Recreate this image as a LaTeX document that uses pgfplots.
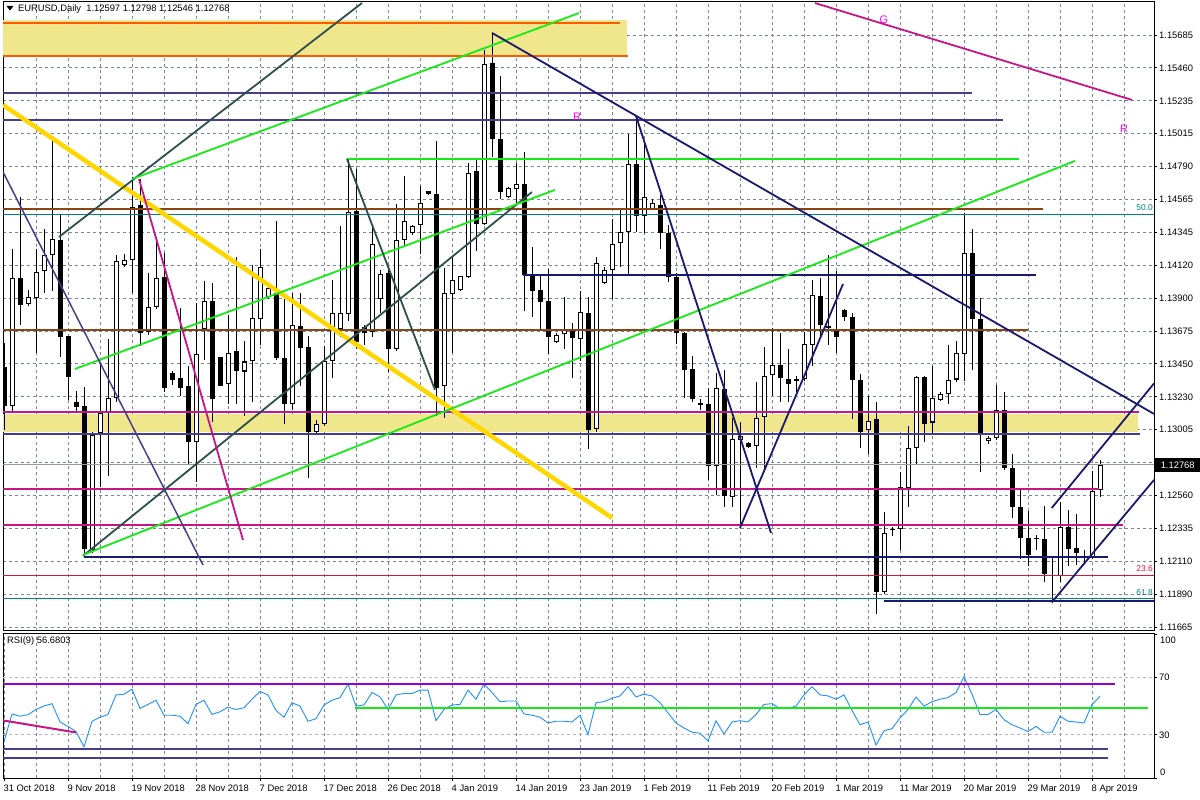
\documentclass[border=0pt]{standalone}
\usepackage{pgfplots}
\pgfplotsset{compat=1.18}
\usepackage{pgfplotstable}
\usepackage{fontspec}
\setmainfont{Liberation Sans}

\definecolor{gridc}{RGB}{120,134,150}
\definecolor{zone}{RGB}{240,230,140}
\definecolor{orangeln}{RGB}{255,90,0}
\definecolor{slateb}{RGB}{72,61,139}
\definecolor{limeg}{RGB}{20,235,20}
\definecolor{brownl}{RGB}{139,69,19}
\definecolor{tealf}{RGB}{0,128,128}
\definecolor{navyl}{RGB}{25,25,112}
\definecolor{magl}{RGB}{199,21,133}
\definecolor{crimf}{RGB}{220,20,60}
\definecolor{goldl}{RGB}{255,215,0}
\definecolor{dslate}{RGB}{47,79,79}
\definecolor{rsiblue}{RGB}{30,144,255}
\definecolor{violetl}{RGB}{148,0,211}
\definecolor{lblmag}{RGB}{255,0,255}
\definecolor{levelc}{RGB}{185,185,185}

% white candles (close >= open)
\pgfplotstableread{
i o h l c
1 1.13163 1.14232 1.13120 1.14036
3 1.13856 1.13954 1.13850 1.13905
4 1.13900 1.14232 1.13529 1.14074
5 1.14082 1.14369 1.13932 1.14191
6 1.14191 1.14969 1.13946 1.14298
11 1.12192 1.12991 1.12165 1.12972
12 1.12980 1.13456 1.12618 1.13116
13 1.13128 1.13619 1.12692 1.13223
14 1.13223 1.14191 1.13196 1.14150
15 1.14123 1.14200 1.14110 1.14156
16 1.14156 1.14723 1.13932 1.14519
18 1.13670 1.14069 1.13646 1.13837
19 1.13837 1.14314 1.13823 1.14036
24 1.12923 1.13864 1.12651 1.13523
25 1.13687 1.14014 1.13482 1.13878
28 1.13313 1.13782 1.13182 1.13529
30 1.13401 1.13605 1.13101 1.13469
31 1.13469 1.14123 1.13196 1.13763
32 1.13755 1.14232 1.13583 1.14110
33 1.13905 1.13973 1.13891 1.13965
36 1.13182 1.13932 1.13141 1.13714
39 1.12991 1.13073 1.12983 1.13046
40 1.13046 1.13572 1.13032 1.13469
41 1.13469 1.14022 1.13360 1.13796
42 1.13687 1.14390 1.13632 1.13796
43 1.13790 1.14846 1.13741 1.14483
46 1.13665 1.14382 1.13638 1.14265
47 1.13891 1.14090 1.13801 1.14063
49 1.13551 1.14538 1.13537 1.14292
50 1.14292 1.14729 1.14246 1.14423
51 1.14341 1.14396 1.14328 1.14388
52 1.14396 1.14660 1.14200 1.14543
55 1.13300 1.14101 1.13081 1.13932
56 1.13927 1.14178 1.13523 1.14020
57 1.13954 1.14052 1.13946 1.14047
58 1.14041 1.14819 1.14036 1.14750
60 1.14404 1.15582 1.14396 1.15487
63 1.14587 1.14652 1.14581 1.14647
64 1.14636 1.14819 1.14532 1.14674
69 1.13600 1.13660 1.13591 1.13651
70 1.13654 1.13905 1.13556 1.13687
72 1.13619 1.13946 1.13469 1.13801
74 1.13011 1.14178 1.12991 1.14137
75 1.14000 1.14110 1.13998 1.14090
76 1.14090 1.14437 1.13891 1.14268
77 1.14273 1.14505 1.14110 1.14347
78 1.14347 1.15015 1.14055 1.14810
80 1.14456 1.14955 1.14341 1.14587
81 1.14505 1.14573 1.14500 1.14543
87 1.13180 1.13210 1.13136 1.13182
89 1.12760 1.13392 1.12561 1.13291
91 1.12547 1.13087 1.12482 1.12942
92 1.12937 1.13060 1.12337 1.12964
94 1.12896 1.13332 1.12746 1.13087
95 1.13092 1.13564 1.12746 1.13373
96 1.13373 1.13700 1.13237 1.13447
99 1.13338 1.13373 1.13264 1.13351
100 1.13351 1.13673 1.13338 1.13586
101 1.13583 1.14020 1.13441 1.13919
108 1.13000 1.13237 1.12841 1.13065
110 1.11901 1.12446 1.11893 1.12302
111 1.12329 1.12345 1.12283 1.12329
112 1.12329 1.12719 1.12192 1.12618
113 1.12610 1.13032 1.12482 1.12882
114 1.12882 1.13373 1.12765 1.13365
116 1.13054 1.13436 1.12983 1.13223
117 1.13210 1.13264 1.13201 1.13251
118 1.13245 1.13583 1.13182 1.13343
119 1.13346 1.13610 1.13327 1.13523
120 1.13523 1.14478 1.13338 1.14205
123 1.12929 1.12964 1.12910 1.12951
124 1.12951 1.13311 1.12937 1.13136
129 1.12266 1.12291 1.12192 1.12269
131 1.12013 1.12138 1.11832 1.12018
132 1.12010 1.12514 1.11974 1.12345
135 1.12141 1.12192 1.12111 1.12146
136 1.12138 1.12727 1.12127 1.12591
137 1.12597 1.12798 1.12546 1.12768
}\bull

% black candles (close < open)
\pgfplotstableread{
i o h l c
0 1.13428 1.13591 1.13005 1.13163
2 1.14036 1.14587 1.13714 1.13850
7 1.14295 1.14464 1.13501 1.13632
8 1.13643 1.13643 1.13207 1.13360
9 1.13196 1.13272 1.13136 1.13158
10 1.13169 1.13297 1.12160 1.12192
17 1.14532 1.14709 1.13572 1.13660
20 1.14041 1.14205 1.13264 1.13291
21 1.13392 1.13401 1.13311 1.13346
22 1.13354 1.13829 1.13237 1.13291
23 1.13300 1.13436 1.12773 1.12923
26 1.13878 1.14000 1.13060 1.13210
27 1.13496 1.13501 1.13300 1.13305
29 1.13537 1.14178 1.13182 1.13401
34 1.13932 1.14423 1.13482 1.13496
35 1.13496 1.13891 1.13046 1.13182
37 1.13709 1.13932 1.13305 1.13564
38 1.13564 1.13646 1.12678 1.12991
44 1.14491 1.14778 1.13551 1.13600
45 1.13700 1.13714 1.13583 1.13660
48 1.14069 1.14110 1.13401 1.13551
53 1.14625 1.14630 1.14598 1.14603
54 1.14603 1.14963 1.13101 1.13291
59 1.14759 1.14838 1.14219 1.14404
61 1.15495 1.15691 1.14859 1.14977
62 1.14977 1.15405 1.14573 1.14619
65 1.14674 1.14892 1.13810 1.14055
66 1.14055 1.14246 1.13769 1.13946
67 1.13954 1.14055 1.13692 1.13872
68 1.13878 1.14101 1.13523 1.13632
71 1.13692 1.13728 1.13354 1.13627
73 1.13801 1.13905 1.12874 1.13005
79 1.14810 1.15132 1.14347 1.14456
82 1.14532 1.14600 1.14232 1.14341
83 1.14341 1.14396 1.14009 1.14041
84 1.14041 1.14069 1.13591 1.13665
85 1.13665 1.13670 1.13223 1.13414
86 1.13414 1.13504 1.13196 1.13210
88 1.13182 1.13291 1.12664 1.12760
90 1.13283 1.13409 1.12482 1.12555
93 1.12915 1.12923 1.12880 1.12888
97 1.13447 1.13660 1.13196 1.13354
98 1.13351 1.13551 1.13196 1.13313
102 1.13913 1.14036 1.13619 1.13714
103 1.13709 1.14191 1.13583 1.13698
104 1.13692 1.14082 1.13523 1.13632
105 1.13818 1.13823 1.13741 1.13769
106 1.13769 1.13801 1.13081 1.13346
107 1.13346 1.13387 1.12882 1.12991
109 1.13079 1.13196 1.11751 1.11901
115 1.13365 1.13373 1.12923 1.13046
121 1.14205 1.14369 1.13414 1.13755
122 1.13755 1.13900 1.12719 1.12970
125 1.13136 1.13264 1.12732 1.12746
126 1.12746 1.12841 1.12405 1.12482
127 1.12482 1.12596 1.12127 1.12269
128 1.12269 1.12454 1.12078 1.12152
130 1.12263 1.12487 1.11969 1.12023
133 1.12345 1.12460 1.12083 1.12192
134 1.12200 1.12432 1.12086 1.12166
}\bear

% RSI(9)
\pgfplotstableread{
i r
0 25.2
1 44.5
2 42.9
3 44.0
4 47.6
5 50.0
6 51.6
7 38.9
8 35.8
9 32.3
10 21.7
11 39.4
12 42.2
13 44.1
14 57.7
15 58.2
16 61.7
17 48.3
18 51.1
19 54.0
20 43.6
21 43.6
22 42.9
23 37.7
24 51.1
25 54.0
26 44.1
27 46.0
28 49.2
29 47.6
30 48.8
31 54.7
32 60.1
33 57.7
34 46.9
35 42.2
36 52.3
37 49.9
38 39.4
39 41.2
40 50.7
41 54.0
42 55.8
43 65.2
44 49.9
45 50.7
46 59.4
47 56.3
48 47.6
49 57.7
50 58.7
51 58.7
52 61.0
53 61.0
54 39.8
55 47.6
56 50.7
57 51.1
58 61.0
59 54.7
60 65.2
61 59.4
62 53.0
63 53.5
64 53.5
65 44.5
66 43.6
67 42.2
68 38.2
69 39.4
70 39.4
71 38.9
72 43.6
73 30.0
74 52.3
75 53.0
76 55.4
77 57.0
78 63.4
79 56.3
80 58.2
81 57.0
82 52.3
83 45.2
84 38.2
85 34.7
86 31.8
87 31.1
88 25.7
89 39.8
90 30.4
91 38.9
92 39.8
93 38.9
94 44.1
95 51.1
96 51.6
97 48.3
98 48.3
99 50.0
100 57.7
101 63.4
102 57.7
103 57.0
104 54.7
105 57.7
106 46.9
107 37.0
108 38.9
109 22.9
110 32.8
111 34.2
112 41.7
113 47.6
114 56.3
115 49.9
116 53.0
117 54.7
118 55.8
119 59.4
120 70.4
121 58.2
122 44.1
123 44.1
124 47.6
125 40.5
126 37.0
127 34.7
128 32.3
129 35.8
130 31.8
131 31.8
132 42.9
133 39.4
134 38.9
135 38.2
136 51.1
137 56.7
}\rsi

\pgfplotsset{
  mt/.style={
    scale only axis, width=1151bp,
    xmin=-0.125, xmax=143.75,
    axis line style={black, line width=1bp},
    grid=both,
    major grid style={gridc, line width=0.8bp, dash pattern=on 3bp off 3bp},
    minor grid style={gridc, line width=0.8bp, dash pattern=on 3bp off 3bp},
    minor xtick={4,12,...,140},
    minor tick length=0pt,
    tick align=outside, major tick length=3bp,
    tick style={black, line width=0.8bp},
    ytick pos=right, yticklabel pos=right,
    tick label style={font=\fontsize{9.4}{10}\selectfont},
    yticklabel style={anchor=west, inner sep=0pt, xshift=2bp},
    clip mode=individual,
  },
  wick/.style={draw=none, mark=none, forget plot,
    error bars/.cd, y dir=both, y explicit, error mark=none,
    error bar style={draw=black, line width=1bp}},
  bodyb/.style={draw=none, mark=none, forget plot,
    error bars/.cd, y dir=both, y explicit, error mark=none,
    error bar style={draw=black, line width=5bp}},
  bodyw/.style={draw=none, mark=none, forget plot,
    error bars/.cd, y dir=both, y explicit, error mark=none,
    error bar style={draw=white, line width=3bp}},
}

\begin{document}
\begin{tikzpicture}
\path[use as bounding box, fill=white] (0,0) rectangle (1200bp,800bp);

% price panel
\begin{axis}[mt,
  height=629bp, at={(3bp,169bp)}, anchor=south west,
  ymin=1.11638, ymax=1.15909,
  xtick={8,16,...,136}, xticklabels={}, x tick style={draw=none},
  ytick={1.11665,1.11888,1.12112,1.12335,1.12558,1.12782,1.13005,1.13228,1.13452,1.13675,1.13898,1.14122,1.14345,1.14568,1.14792,1.15015,1.15238,1.15462,1.15685},
  yticklabels={1.11665,1.11890,1.12110,1.12335,1.12560,{},1.13005,1.13230,1.13450,1.13675,1.13900,1.14120,1.14345,1.14565,1.14790,1.15015,1.15235,1.15460,1.15685},
]
% zones
\addplot[draw=none, fill=zone] coordinates {(-0.125,1.15787) (77.9,1.15787) (77.9,1.15543) (-0.125,1.15543)};
\addplot[draw=none, fill=zone] coordinates {(-0.125,1.13114) (141.75,1.13114) (141.75,1.12989) (-0.125,1.12989)};

% candles
\addplot[wick] table[x=i, y expr={(\thisrow{h}+\thisrow{l})/2}, y error expr={(\thisrow{h}-\thisrow{l})/2}] {\bear};
\addplot[wick] table[x=i, y expr={(\thisrow{h}+\thisrow{l})/2}, y error expr={(\thisrow{h}-\thisrow{l})/2}] {\bull};
\addplot[bodyb] table[x=i, y expr={(\thisrow{o}+\thisrow{c})/2}, y error expr={max(abs(\thisrow{c}-\thisrow{o})/2,0.00004)}] {\bear};
\addplot[bodyb] table[x=i, y expr={(\thisrow{o}+\thisrow{c})/2}, y error expr={max(abs(\thisrow{c}-\thisrow{o})/2,0.00004)}] {\bull};
\addplot[bodyw] table[x=i, y expr={(\thisrow{o}+\thisrow{c})/2}, y error expr={max(abs(\thisrow{c}-\thisrow{o})/2-0.00007,0)}] {\bull};

% horizontal levels
\addplot[orangeln, line width=2bp] coordinates {(-0.125,1.15767) (77,1.15767)};
\addplot[orangeln, line width=2bp] coordinates {(-0.125,1.15543) (78,1.15543)};
\addplot[slateb, line width=2bp] coordinates {(-0.125,1.15291) (121,1.15291)};
\addplot[slateb, line width=2bp] coordinates {(-0.125,1.15105) (124.9,1.15105)};
\addplot[limeg, line width=2bp] coordinates {(42.9,1.14846) (126.9,1.14846)};
\addplot[brownl, line width=2bp] coordinates {(-0.125,1.14505) (129.9,1.14505)};
\addplot[tealf, line width=0.8bp] coordinates {(-0.125,1.14470) (143.75,1.14470)};
\addplot[navyl, line width=2bp] coordinates {(64.9,1.14058) (129,1.14058)};
\addplot[brownl, line width=2bp] coordinates {(-0.125,1.13679) (128,1.13679)};
\addplot[magl, line width=2bp] coordinates {(-0.125,1.13128) (141.9,1.13128)};
\addplot[slateb, line width=2bp] coordinates {(-0.125,1.12978) (142,1.12978)};
\addplot[gray!80, line width=0.8bp] coordinates {(-0.125,1.12768) (143.75,1.12768)};
\addplot[magl, line width=2bp] coordinates {(-0.125,1.12604) (136.9,1.12604)};
\addplot[magl, line width=2bp] coordinates {(-0.125,1.12356) (139.9,1.12356)};
\addplot[navyl, line width=2bp] coordinates {(10,1.12138) (138,1.12138)};
\addplot[crimf, line width=0.8bp] coordinates {(-0.125,1.12018) (143.75,1.12018)};
\addplot[tealf, line width=0.8bp] coordinates {(-0.125,1.11857) (143.75,1.11857)};
\addplot[navyl, line width=2bp] coordinates {(110,1.11841) (143.75,1.11841)};

% trend lines
\addplot[goldl, line width=4.5bp] coordinates {(-0.125,1.15210) (76,1.12406)};
\addplot[dslate, line width=1.8bp] coordinates {(6.875,1.14314) (44.75,1.15902)};
\addplot[limeg, line width=1.8bp] coordinates {(16,1.14707) (71.875,1.15834)};
\addplot[dslate, line width=1.8bp] coordinates {(9.875,1.12148) (66,1.14619)};
\addplot[limeg, line width=1.8bp] coordinates {(9.875,1.12154) (133.875,1.14830)};
\addplot[limeg, line width=1.8bp] coordinates {(8.875,1.13417) (68.875,1.14633)};
\addplot[slateb, line width=1.5bp] coordinates {(-0.125,1.14755) (24.875,1.12086)};
\addplot[magl, line width=1.8bp] coordinates {(16.875,1.14707) (29.875,1.12256)};
\addplot[dslate, line width=1.8bp] coordinates {(42.875,1.14843) (53.875,1.13275)};
\addplot[navyl, line width=1.8bp] coordinates {(61,1.15699) (143.75,1.13112)};
\addplot[navyl, line width=1.8bp] coordinates {(79,1.15135) (95.875,1.12304)};
\addplot[navyl, line width=1.8bp] coordinates {(92,1.12338) (104.875,1.13994)};
\addplot[magl, line width=1.8bp] coordinates {(101.375,1.15902) (141,1.15244)};
\addplot[navyl, line width=1.8bp] coordinates {(130.96,1.12473) (143.75,1.13319)};
\addplot[navyl, line width=1.8bp] coordinates {(130.96,1.11832) (143.75,1.12664)};

\end{axis}

% RSI panel
\begin{axis}[mt,
  height=144bp, at={(3bp,22bp)}, anchor=south west,
  ymin=0, ymax=100, ymajorgrids=false,
  xtick={0,8,...,136}, xtick pos=left,
  xticklabels={31 Oct 2018,9 Nov 2018,19 Nov 2018,28 Nov 2018,7 Dec 2018,17 Dec 2018,26 Dec 2018,4 Jan 2019,14 Jan 2019,23 Jan 2019,1 Feb 2019,11 Feb 2019,20 Feb 2019,1 Mar 2019,11 Mar 2019,20 Mar 2019,29 Mar 2019,8 Apr 2019},
  xticklabel style={anchor=north west, inner sep=0pt, xshift=-0.5bp, yshift=-3.5bp},
  ytick={30,70}, yticklabels={30,70},
  extra y ticks={0,100}, extra y tick labels={}, extra y tick style={grid=none},
]
% RSI levels 30 / 70
\addplot[levelc, line width=0.8bp, dash pattern=on 3bp off 3bp] coordinates {(-0.125,70) (143.75,70)};
\addplot[levelc, line width=0.8bp, dash pattern=on 3bp off 3bp] coordinates {(-0.125,30) (143.75,30)};
\addplot[rsiblue, line width=0.9bp] table[x=i, y=r] {\rsi};
\addplot[violetl, line width=2bp] coordinates {(-0.125,65.3) (138.9,65.3)};
\addplot[limeg, line width=2bp] coordinates {(43.9,48.8) (143,48.8)};
\addplot[slateb, line width=2bp] coordinates {(-0.125,20.1) (138,20.1)};
\addplot[slateb, line width=2bp] coordinates {(-0.125,14.1) (138,14.1)};
\addplot[magl, line width=2bp] coordinates {(-0.125,40) (9,31.6)};
\end{axis}

% texts
\begin{scope}[every node/.style={font=\fontsize{9.4}{10}\selectfont, inner sep=0pt}]
\fill[black] (6.5bp,794bp) -- (13.5bp,794bp) -- (10bp,789.5bp) -- cycle;
\node[anchor=west] at (18bp,791bp) {EURUSD,Daily\ \ 1.12597 1.12798 1.12546 1.12768};
\node[anchor=west] at (7bp,159bp) {RSI(9) 56.6803};
\node[anchor=west] at (1160bp,160bp) {100};
\node[anchor=west] at (1160bp,28bp) {0};
\node[anchor=west, fill=black, text=white, minimum width=45bp, minimum height=14bp, inner xsep=3bp] at (1155bp,335bp) {1.12768};
\node[anchor=east, tealf, font=\fontsize{8.5}{9}\selectfont] at (1153bp,592bp) {50.0};
\node[anchor=east, crimf, font=\fontsize{8.5}{9}\selectfont] at (1153bp,231bp) {23.6};
\node[anchor=east, tealf, font=\fontsize{8.5}{9}\selectfont] at (1153bp,207bp) {61.8};
\node[lblmag, font=\fontsize{11}{12}\selectfont] at (577bp,683bp) {R};
\node[lblmag, font=\fontsize{11}{12}\selectfont] at (1124bp,671bp) {R};
\node[lblmag, font=\fontsize{11}{12}\selectfont] at (884bp,780bp) {G};
\end{scope}
\end{tikzpicture}
\end{document}
